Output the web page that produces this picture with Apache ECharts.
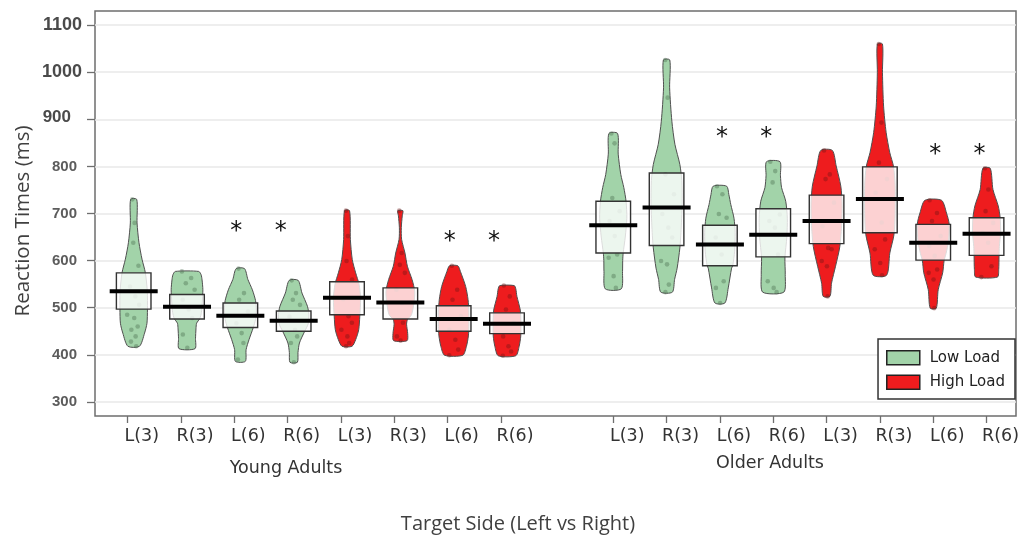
<!DOCTYPE html>
<html>
<head>
<meta charset="utf-8">
<title>Reaction Times by Target Side</title>
<script src="https://cdn.jsdelivr.net/npm/echarts@6/dist/echarts.min.js"></script>
<style>
  html, body { margin: 0; padding: 0; background: #ffffff; }
  #chart { width: 1023px; height: 540px; }
</style>
</head>
<body>
<div id="chart"></div>
<script>
// ---------- data ----------
const groupNames = ['Young Adults', 'Older Adults'];
const conditionLabels = ['L(3)', 'R(3)', 'L(6)', 'R(6)', 'L(3)', 'R(3)', 'L(6)', 'R(6)'];
const loadNames = ['Low Load', 'High Load'];
const yTicks = [300, 400, 500, 600, 700, 800, 900, 1000, 1100];

// mean reaction time (ms) per condition
const youngMeans = [535, 502, 483, 472, 521, 511, 476, 466];
const olderMeans = [675, 713, 634, 655, 684, 731, 638, 657];

// inference band around the mean (ms)
const youngBandLow  = [497, 476, 458, 450, 485, 476, 450, 445];
const youngBandHigh = [574, 528, 510, 493, 555, 542, 504, 489];
const olderBandLow  = [616, 632, 589, 608, 636, 659, 601, 611];
const olderBandHigh = [726, 786, 675, 710, 739, 799, 677, 691];

// bean outlines: [rt, relative density], from slowest to fastest
const youngDensity = [
  [[730,0.19],[680,0.21],[638,0.33],[603,0.52],[574,0.73],[535,0.85],[496,0.86],[467,0.83],[446,0.68],[418,0.36]],
  [[577,0.73],[570,0.88],[559,0.94],[538,0.99],[510,0.95],[490,0.9],[477,0.8],[467,0.6],[455,0.56],[435,0.53],[413,0.5]],
  [[583,0.26],[560,0.47],[538,0.75],[515,0.95],[495,1.0],[475,0.95],[457,0.8],[432,0.54],[411,0.36],[386,0.31]],
  [[558,0.28],[531,0.52],[503,0.86],[485,0.95],[465,0.9],[450,0.69],[425,0.36],[405,0.27],[384,0.23]],
  [[706,0.16],[645,0.21],[602,0.33],[574,0.54],[550,0.75],[520,0.85],[482,0.8],[453,0.73],[432,0.54],[418,0.31]],
  [[706,0.16],[695,0.12],[670,0.06],[645,0.08],[616,0.29],[588,0.44],[560,0.73],[535,0.9],[510,0.85],[485,0.7],[475,0.45],[465,0.39],[445,0.46],[430,0.42]],
  [[589,0.26],[577,0.42],[545,0.75],[517,0.9],[490,0.95],[460,0.95],[440,0.92],[418,0.8],[399,0.57]],
  [[547,0.45],[540,0.55],[524,0.62],[495,0.83],[470,0.87],[440,0.86],[418,0.76],[398,0.55]]
];
const olderDensity = [
  [[870,0.27],[826,0.31],[783,0.47],[755,0.66],[726,0.8],[690,0.85],[650,0.75],[616,0.62],[600,0.59],[577,0.58],[540,0.5]],
  [[1026,0.2],[967,0.19],[896,0.33],[847,0.52],[804,0.83],[770,0.95],[720,0.97],[660,0.9],[627,0.83],[584,0.66],[560,0.5],[533,0.36]],
  [[758,0.42],[740,0.56],[719,0.68],[690,0.88],[660,0.95],[620,0.92],[589,0.8],[584,0.73],[542,0.52],[510,0.31]],
  [[810,0.42],[780,0.45],[755,0.52],[726,0.78],[690,0.88],[650,0.85],[606,0.73],[570,0.75],[533,0.66]],
  [[834,0.36],[801,0.6],[758,0.89],[720,0.97],[680,0.95],[630,0.83],[588,0.56],[552,0.31],[524,0.21]],
  [[1060,0.16],[999,0.16],[928,0.23],[872,0.39],[829,0.62],[800,0.85],[760,0.95],[700,0.95],[655,0.88],[616,0.62],[569,0.42]],
  [[728,0.52],[701,0.83],[677,1.0],[640,0.95],[615,0.8],[600,0.68],[574,0.59],[538,0.31],[499,0.19]],
  [[796,0.23],[751,0.4],[716,0.73],[691,0.85],[660,0.88],[630,0.8],[610,0.78],[581,0.76],[565,0.68]]
];

// individual participant reaction times (ms)
const youngPoints = [
  [730,680,638,589,545,524,506,485,478,460,453,439,428,418],
  [577,563,552,538,517,496,478,443,415],
  [583,531,517,492,467,446,425,390],
  [558,531,517,506,481,453,439,425,384],
  [706,652,599,560,518,482,468,453,439,425,418],
  [706,616,591,574,538,510,468,439,430],
  [589,538,517,482,453,432,411,399],
  [547,524,496,468,439,418,407,398]
];
const olderPoints = [
  [870,849,733,705,684,652,613,606,567,542],
  [1026,946,783,741,699,670,649,599,592,549,533],
  [758,741,699,691,649,613,556,542,510],
  [810,790,766,698,684,670,613,556,542,533],
  [834,783,773,723,673,627,624,599,588,524],
  [1060,893,808,773,744,681,645,624,595,569],
  [728,701,684,652,631,610,581,574,560,499],
  [796,751,705,680,659,638,588,565]
];

// significance markers: condition index and height (ms)
const youngStars = [[2, 671], [3, 671], [6, 650], [7, 650]];
const olderStars = [[2, 872], [3, 872], [6, 836], [7, 836]];

// ---------- layout helpers ----------
const GROUP_OFFSET = 9.105;      // x offset of the second group (in slot units)
const YOUNG_SHIFT = 0.1125;      // beans of the first group sit slightly right of their ticks
const BEAN_HALF = 16;            // px half-width at relative density 1
const BAND_HALF = 17.3;          // px
const LINE_HALF = 24;            // px
const JITTER = [-0.55, 0.35, -0.1, 0.6, -0.35, 0.15, 0.5, -0.6, 0.05, 0.4, -0.25, 0.25, -0.45, 0.55];
const LOAD_COLORS = ['#a2d3a9', '#ee1c1e'];
const DOT_COLORS = ['rgba(70,105,75,0.38)', 'rgba(110,20,20,0.38)'];

const tickPositions = [];
for (let g = 0; g < 2; g++) for (let i = 0; i < 8; i++) tickPositions.push(+(g * GROUP_OFFSET + i).toFixed(3));

const beans = [];
[[youngMeans, youngBandLow, youngBandHigh, youngDensity, youngPoints],
 [olderMeans, olderBandLow, olderBandHigh, olderDensity, olderPoints]].forEach(([m, lo, hi, dens, pts], g) => {
  for (let i = 0; i < 8; i++) {
    beans.push({
      x: g * GROUP_OFFSET + i + (g === 0 ? YOUNG_SHIFT : 0),
      mean: m[i], lo: lo[i], hi: hi[i], density: dens[i], points: pts[i],
      load: i < 4 ? 0 : 1
    });
  }
});

function densityAt(profile, rt) {
  for (let k = 0; k < profile.length - 1; k++) {
    const [r0, d0] = profile[k], [r1, d1] = profile[k + 1];
    if (rt <= r0 && rt >= r1) return d0 + (d1 - d0) * (r0 - rt) / (r0 - r1);
  }
  return profile[profile.length - 1][1];
}

function renderBean(params, api) {
  const b = beans[api.value(2)];
  const cx = api.coord([b.x, b.mean])[0];
  const yOf = rt => api.coord([b.x, rt])[1];
  const right = b.density.map(([rt, d]) => [cx + d * BEAN_HALF, yOf(rt)]);
  const left = b.density.slice().reverse().map(([rt, d]) => [cx - d * BEAN_HALF, yOf(rt)]);
  const children = [{
    type: 'polygon',
    shape: { points: right.concat(left), smooth: 0.25 },
    style: { fill: LOAD_COLORS[b.load], stroke: '#505050', lineWidth: 1 }
  }];
  b.points.forEach((rt, j) => {
    const off = JITTER[j % JITTER.length] * densityAt(b.density, rt) * BEAN_HALF * 0.8;
    children.push({
      type: 'circle',
      shape: { cx: cx + off, cy: yOf(rt), r: 2.3 },
      style: { fill: DOT_COLORS[b.load] }
    });
  });
  const yHi = yOf(b.hi), yLo = yOf(b.lo), yMean = yOf(b.mean);
  children.push({
    type: 'rect',
    shape: { x: cx - BAND_HALF, y: yHi, width: BAND_HALF * 2, height: yLo - yHi },
    style: { fill: 'rgba(255,255,255,0.8)', stroke: '#333333', lineWidth: 1.4 }
  });
  children.push({
    type: 'line',
    shape: { x1: cx - LINE_HALF, y1: yMean, x2: cx + LINE_HALF, y2: yMean },
    style: { stroke: '#000000', lineWidth: 4 }
  });
  return { type: 'group', children };
}

function beanSeries(load) {
  const data = [];
  beans.forEach((b, idx) => { if (b.load === load) data.push([b.x, b.mean, idx]); });
  return {
    name: loadNames[load],
    type: 'custom',
    renderItem: renderBean,
    itemStyle: { color: LOAD_COLORS[load] },
    encode: { x: 0, y: 1 },
    data,
    silent: true,
    z: 3
  };
}

const starData = [];
[youngStars, olderStars].forEach((list, g) => {
  list.forEach(([ci, rt]) => starData.push([g * GROUP_OFFSET + ci, rt, ci]));
});

const chart = echarts.init(document.getElementById('chart'), null, { renderer: 'canvas' });

chart.setOption({
  animation: false,
  backgroundColor: '#ffffff',
  grid: {
    left: 95, right: 7, top: 11, bottom: 124,
    show: true, borderColor: '#6e6e6e', borderWidth: 1.5, backgroundColor: '#ffffff'
  },
  xAxis: {
    type: 'value',
    min: -0.613, max: 16.657,
    axisLine: { show: false, onZero: false },
    splitLine: { show: false },
    axisTick: {
      show: true, customValues: tickPositions, length: 7,
      lineStyle: { color: '#6e6e6e', width: 1.3 }
    },
    axisLabel: {
      customValues: tickPositions,
      margin: 11,
      formatter: v => {
        const idx = tickPositions.findIndex(t => Math.abs(t - v) < 1e-6);
        return '{c|' + conditionLabels[idx % 8] + '}';
      },
      rich: {
        c: { fontFamily: 'DejaVu Sans', fontSize: 17.5, color: '#333333', padding: [0, 0, 0, 28] }
      }
    }
  },
  yAxis: {
    type: 'value',
    min: 270, max: 1130,
    axisLine: { show: false, onZero: false },
    axisTick: {
      show: true, customValues: yTicks, length: 8,
      lineStyle: { color: '#6e6e6e', width: 1.3 }
    },
    splitLine: { show: true, lineStyle: { color: '#e8e8e8', width: 1.5 } },
    axisLabel: {
      customValues: yTicks,
      margin: 13,
      formatter: v => v >= 1000 ? '{big|' + v + '}' : (v === 900 ? '{mid|' + v + '}' : '{small|' + v + '}'),
      rich: {
        big:   { fontFamily: 'Liberation Sans', fontWeight: 'bold', fontSize: 18, color: '#4a4a4a' },
        mid:   { fontFamily: 'Liberation Sans', fontWeight: 'bold', fontSize: 17, color: '#4a4a4a', padding: [0, 11, 4, 0] },
        small: { fontFamily: 'Liberation Sans', fontWeight: 'bold', fontSize: 15, color: '#5c5c5c', padding: [0, 5, 0, 0] }
      }
    }
  },
  legend: {
    data: loadNames,
    orient: 'vertical',
    right: 8, top: 339,
    icon: 'rect',
    itemWidth: 33, itemHeight: 14, itemGap: 9,
    padding: [11, 10, 9, 8],
    backgroundColor: '#ffffff',
    borderColor: '#333333', borderWidth: 1.5, borderRadius: 0,
    itemStyle: { borderColor: '#222222', borderWidth: 1.5 },
    textStyle: { fontFamily: 'DejaVu Sans', fontSize: 15, color: '#222222', padding: [0, 0, 0, 5] },
    selectedMode: false
  },
  graphic: [
    {
      type: 'text', x: 286, y: 468,
      style: { text: groupNames[0], fontFamily: 'DejaVu Sans', fontSize: 17.5, fill: '#333333', align: 'center', verticalAlign: 'middle' }
    },
    {
      type: 'text', x: 770, y: 463,
      style: { text: groupNames[1], fontFamily: 'DejaVu Sans', fontSize: 17.5, fill: '#333333', align: 'center', verticalAlign: 'middle' }
    },
    {
      type: 'text', x: 518, y: 524,
      style: { text: 'Target Side (Left vs Right)', fontFamily: 'Open Sans', fontSize: 20, fill: '#404040', align: 'center', verticalAlign: 'middle' }
    },
    {
      type: 'text', x: 23, y: 221, rotation: Math.PI / 2,
      style: { text: 'Reaction Times (ms)', fontFamily: 'Open Sans', fontSize: 20.5, fill: '#404040', align: 'center', verticalAlign: 'middle' }
    }
  ],
  series: [
    beanSeries(0),
    beanSeries(1),
    {
      name: 'significance',
      type: 'custom',
      silent: true,
      z: 4,
      encode: { x: 0, y: 1 },
      data: starData,
      renderItem: (params, api) => {
        const p = api.coord([api.value(0), api.value(1)]);
        const shift = api.value(2) % 4 === 3 ? -7 : 2;
        return {
          type: 'text',
          x: p[0] + shift, y: p[1] + 5,
          style: { text: '*', fontFamily: 'DejaVu Sans', fontSize: 24, fill: '#111111', align: 'center', verticalAlign: 'middle' }
        };
      }
    }
  ]
});
</script>
</body>
</html>
